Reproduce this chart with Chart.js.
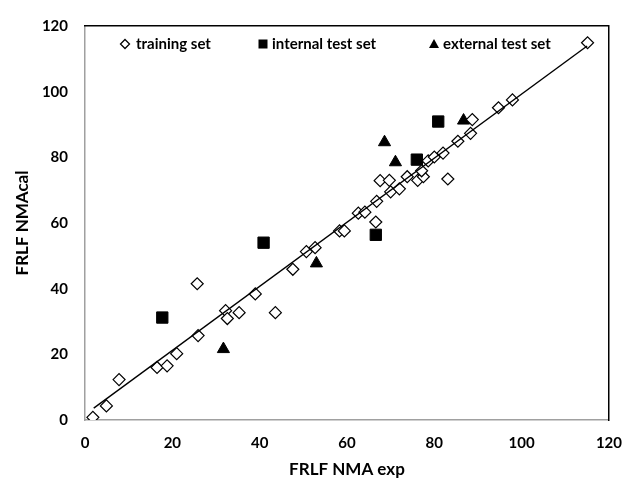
<!DOCTYPE html>
<html>
<head>
<meta charset="utf-8">
<script src="https://cdn.jsdelivr.net/npm/chart.js@4.4.0/dist/chart.umd.min.js"></script>
<style>
  html, body { margin: 0; padding: 0; background: #fff; }
  #wrap { width: 636px; height: 482px; }
</style>
</head>
<body>
<div id="wrap"><canvas id="chart"></canvas></div>
<script>
// Values
const trainExp = [1.8, 4.9, 7.8, 16.5, 18.8, 21.0, 25.9, 25.7, 32.2, 32.6, 35.3, 39.0, 43.6, 47.6, 50.7, 52.7,
    58.3, 59.4, 62.6, 64.1, 66.6, 66.8, 67.6, 69.7, 70.0, 72.0, 73.8, 76.2, 77.5, 77.1, 78.6, 80.0,
    82.0, 83.1, 85.4, 88.3, 88.7, 94.7, 97.9, 115.1];
const trainCal = [0.8, 4.3, 12.3, 16.0, 16.5, 20.2, 25.7, 41.5, 33.3, 30.9, 32.7, 38.4, 32.7, 45.9, 51.3, 52.5,
    57.6, 57.6, 63.0, 63.3, 60.3, 66.6, 72.9, 73.0, 69.5, 70.4, 74.1, 73.0, 74.1, 75.9, 78.9, 80.1,
    81.3, 73.4, 84.9, 87.3, 91.5, 95.1, 97.5, 114.9];

const internalExp = [17.7, 40.9, 66.6, 76.0, 80.9];
const internalCal = [31.2, 54.0, 56.4, 79.3, 90.9];

const externalExp = [31.7, 53.0, 68.6, 71.1, 86.7];
const externalCal = [21.6, 47.7, 84.6, 78.5, 91.2];

// regression line end points
const fitExp = [2, 115];
const fitCal = [3.6, 113.9];

const axisTicks = [0, 20, 40, 60, 80, 100, 120];

const toPoints = (xs, ys) => xs.map((x, i) => ({ x: x, y: ys[i] }));

const FONT = 'Lato, "Open Sans", sans-serif';

// Legend drawn inside the plot area, like the Excel original
const insideLegend = {
    id: 'insideLegend',
    afterDraw(chart) {
        const ctx = chart.ctx;
        const y = 44;
        ctx.save();
        ctx.fillStyle = '#000';
        ctx.strokeStyle = '#000';
        ctx.font = 'bold 15px ' + FONT;
        ctx.textBaseline = 'middle';
        ctx.textAlign = 'left';

        // diamond
        ctx.lineWidth = 1.3;
        ctx.beginPath();
        ctx.moveTo(125, y - 4.5);
        ctx.lineTo(129.5, y);
        ctx.lineTo(125, y + 4.5);
        ctx.lineTo(120.5, y);
        ctx.closePath();
        ctx.fillStyle = '#fff';
        ctx.fill();
        ctx.stroke();
        ctx.fillStyle = '#000';
        ctx.fillText('training set', 136, y);

        // square
        ctx.fillRect(258.5, y - 4.5, 9, 9);
        ctx.fillText('internal test set', 272, y);

        // triangle
        ctx.beginPath();
        ctx.moveTo(434, y - 5);
        ctx.lineTo(439, y + 4);
        ctx.lineTo(429, y + 4);
        ctx.closePath();
        ctx.fill();
        ctx.fillText('external test set', 443, y);
        ctx.restore();
    }
};

new Chart(document.getElementById('chart'), {
    type: 'scatter',
    data: {
        datasets: [
            {
                label: 'fit',
                type: 'line',
                data: toPoints(fitExp, fitCal),
                borderColor: '#000',
                borderWidth: 1.4,
                pointRadius: 0,
                fill: false
            },
            {
                label: 'training set',
                data: toPoints(trainExp, trainCal),
                pointStyle: 'rectRot',
                pointRadius: 6,
                backgroundColor: '#fff',
                borderColor: '#000',
                borderWidth: 1.2
            },
            {
                label: 'internal test set',
                data: toPoints(internalExp, internalCal),
                pointStyle: 'rect',
                pointRadius: 8,
                backgroundColor: '#000',
                borderColor: '#000',
                borderWidth: 1
            },
            {
                label: 'external test set',
                data: toPoints(externalExp, externalCal),
                pointStyle: 'triangle',
                pointRadius: 7,
                backgroundColor: '#000',
                borderColor: '#000',
                borderWidth: 1
            }
        ]
    },
    options: {
        responsive: true,
        maintainAspectRatio: false,
        animation: false,
        layout: { padding: { left: 0, right: 14, top: 20, bottom: 0 } },
        scales: {
            x: {
                type: 'linear',
                min: 0,
                max: 120,
                afterBuildTicks: s => { s.ticks = axisTicks.map(v => ({ value: v })); },
                afterFit: s => { s.height = 62; },
                grid: { display: false, drawTicks: false },
                border: { display: true, color: '#a0a0a0', width: 1.5 },
                ticks: { color: '#000', font: { family: FONT, size: 15, weight: 'bold' }, padding: 14, maxRotation: 0 },
                title: {
                    display: true,
                    text: 'FRLF NMA exp',
                    color: '#000',
                    font: { family: FONT, size: 17, weight: 'bold' },
                    padding: { top: 0, bottom: 2 }
                }
            },
            y: {
                type: 'linear',
                min: 0,
                max: 120,
                afterBuildTicks: s => { s.ticks = axisTicks.map(v => ({ value: v })); },
                afterFit: s => { s.width = 85; },
                grid: { display: false, drawTicks: false },
                border: { display: true, color: '#a0a0a0', width: 1.5 },
                ticks: { color: '#000', font: { family: FONT, size: 15, weight: 'bold' }, padding: 17 },
                title: {
                    display: true,
                    text: 'FRLF NMAcal',
                    color: '#000',
                    font: { family: FONT, size: 17, weight: 'bold' },
                    padding: { top: 12, bottom: 0 }
                }
            },
            x2: {
                type: 'linear',
                position: 'top',
                min: 0,
                max: 120,
                afterFit: s => { s.height = 0; },
                grid: { display: false, drawTicks: false },
                border: { display: true, color: '#000', width: 1.5 },
                ticks: { display: false }
            },
            y2: {
                type: 'linear',
                position: 'right',
                min: 0,
                max: 120,
                afterFit: s => { s.width = 0; },
                grid: { display: false, drawTicks: false },
                border: { display: true, color: '#000', width: 1.5 },
                ticks: { display: false }
            }
        },
        plugins: {
            legend: { display: false },
            tooltip: { enabled: false }
        }
    },
    plugins: [insideLegend]
});
</script>
</body>
</html>
